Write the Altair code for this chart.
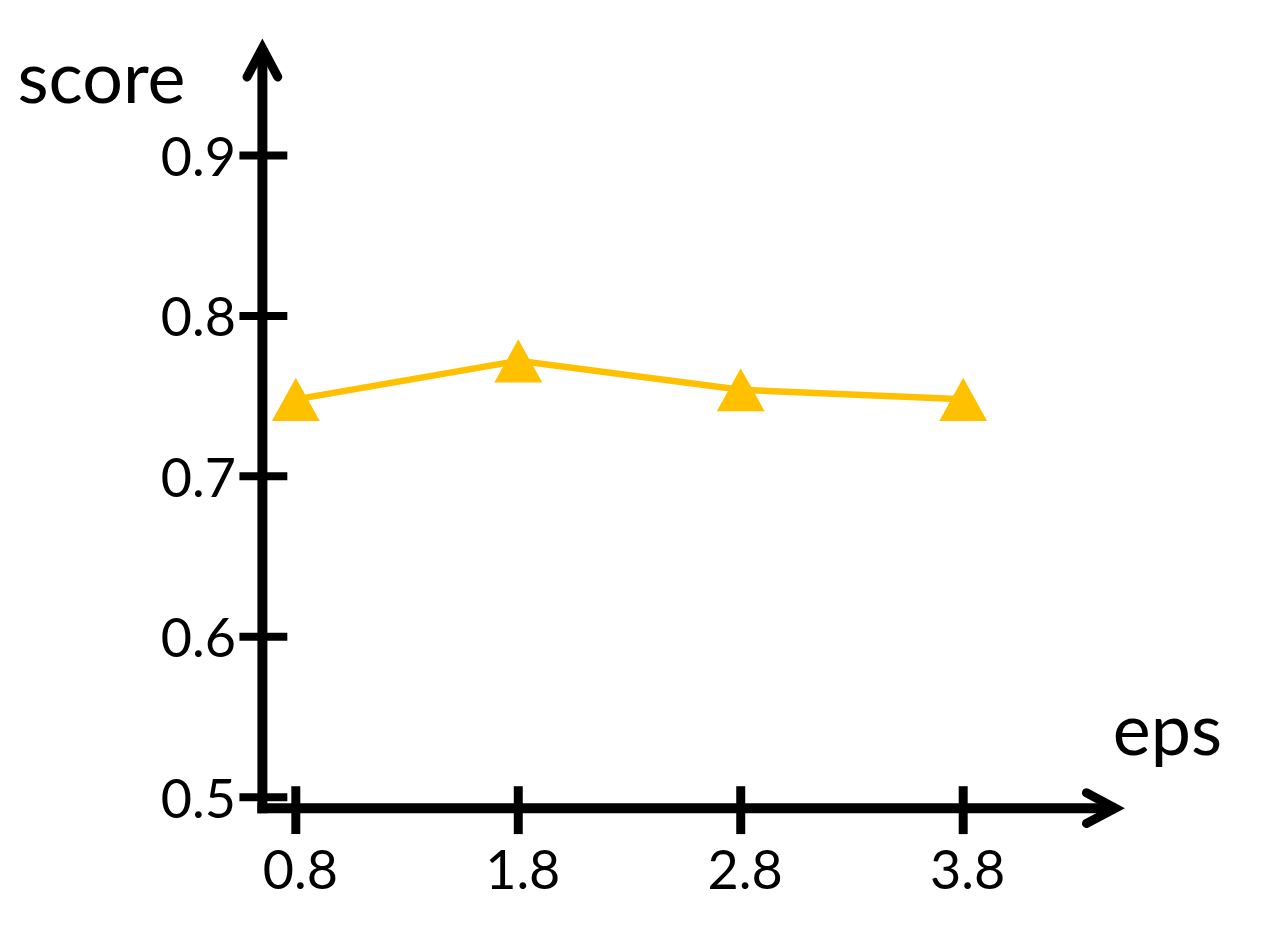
import altair as alt
import pandas as pd

# ---- data ----
eps = [0.8, 1.8, 2.8, 3.8]
score = [0.748, 0.772, 0.754, 0.748]
x_ticks = [0.8, 1.8, 2.8, 3.8]
y_ticks = [0.5, 0.6, 0.7, 0.8, 0.9]

X_DOMAIN = [0.6498, 4.4839]
Y_DOMAIN = [0.49316, 0.96704]
W, H = 855, 762
GOLD = "#FFC000"
FONT = "Lato"

df = pd.DataFrame({"eps": eps, "score": score})
xt = pd.DataFrame({"eps": x_ticks})
yt = pd.DataFrame({"score": y_ticks})
one = pd.DataFrame({"k": [0]})

xs = alt.Scale(domain=X_DOMAIN, nice=False, zero=False)
ys = alt.Scale(domain=Y_DOMAIN, nice=False, zero=False)

x_axis = alt.Axis(
    values=x_ticks, format=".1f", domain=False, ticks=False, tickSize=0, grid=False,
    labelFont=FONT, labelFontSize=54, labelColor="black", labelPadding=38,
    labelOffset=4, labelFlush=False, labelOverlap=False,
    title="eps", titleFont=FONT, titleFontSize=72, titleFontWeight="normal",
    titleColor="black", titleX=852, titleY=-54, titleAlign="left",
    titleBaseline="alphabetic", titleAngle=0,
)
y_axis = alt.Axis(
    values=y_ticks, format=".1f", domain=False, ticks=False, tickSize=0, grid=False,
    labelFont=FONT, labelFontSize=54, labelColor="black", labelPadding=27,
    labelOffset=4, labelFlush=False, labelOverlap=False,
    title="score", titleFont=FONT, titleFontSize=72, titleFontWeight="normal",
    titleColor="black", titleX=-246, titleY=55, titleAlign="left",
    titleBaseline="alphabetic", titleAngle=0,
)

X = alt.X("eps:Q", scale=xs, axis=x_axis)
Y = alt.Y("score:Q", scale=ys, axis=y_axis)

line = alt.Chart(df).mark_line(color=GOLD, strokeWidth=6.5).encode(x=X, y=Y)
pts = alt.Chart(df).mark_point(
    shape="M0,-0.9L1,0.9L-1,0.9Z", filled=True, color=GOLD, size=2304,
    opacity=1, strokeWidth=0,
).encode(x=X, y=Y)

# axis lines
y_line = alt.Chart(one).mark_rule(color="black", strokeWidth=10, strokeCap="butt").encode(
    x=alt.value(0), y=alt.value(0), y2=alt.value(H + 5)
)
x_line = alt.Chart(one).mark_rule(color="black", strokeWidth=10, strokeCap="butt").encode(
    y=alt.value(H), x=alt.value(-5), x2=alt.value(W)
)

# crossing tick marks
y_tick_marks = alt.Chart(yt).mark_tick(
    orient="horizontal", size=48, thickness=8, color="black", opacity=1
).encode(y=alt.Y("score:Q", scale=ys, axis=y_axis), x=alt.value(1))
x_tick_marks = alt.Chart(xt).mark_tick(
    orient="vertical", size=48, thickness=9, color="black", opacity=1
).encode(x=alt.X("eps:Q", scale=xs, axis=x_axis), y=alt.value(H + 2))

# arrow heads
y_arrow = alt.Chart(one).mark_point(
    shape="M-0.53,1L0,0L0.53,1", filled=False, stroke="black", strokeWidth=9,
    strokeCap="round", strokeJoin="miter", size=3364, opacity=1,
).encode(x=alt.value(0), y=alt.value(0))
x_arrow = alt.Chart(one).mark_point(
    shape="M-1,-0.53L0,0L-1,0.53", filled=False, stroke="black", strokeWidth=9,
    strokeCap="round", strokeJoin="miter", size=3364, opacity=1,
).encode(x=alt.value(W), y=alt.value(H))

chart = alt.layer(
    line, pts, y_line, x_line, y_tick_marks, x_tick_marks, y_arrow, x_arrow
).properties(
    width=W, height=H,
    autosize=alt.AutoSizeParams(type="none"),
    padding={"left": 255, "top": 39, "right": 140, "bottom": 100},
    background="white",
).configure_view(strokeWidth=0)

chart.save("out.html", embed_options={"renderer": "svg", "actions": False})
